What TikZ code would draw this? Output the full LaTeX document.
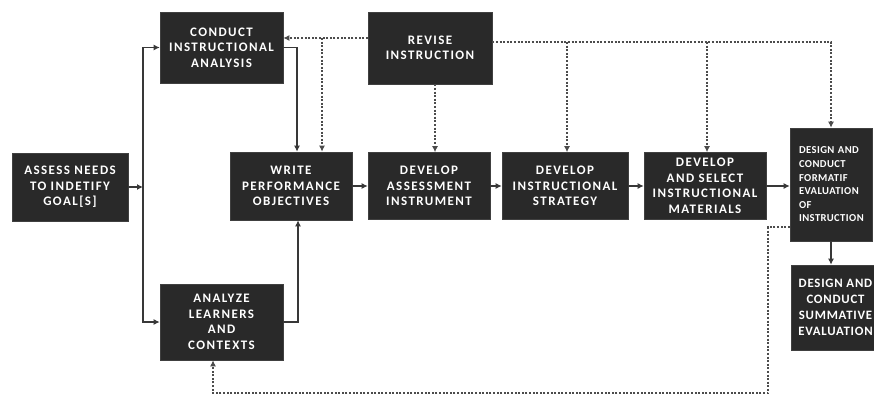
\documentclass[tikz,border=0pt]{standalone}
\usepackage{fontspec}
\setmainfont{Carlito}
\usetikzlibrary{arrows.meta,calc}
\begin{document}
\begin{tikzpicture}[x=1pt,y=-1pt,
  box/.style={draw=black!75,line width=0.6pt,fill=black!84,text=white,inner sep=0pt,align=center,
    font=\fontsize{13}{15.5}\selectfont\bfseries\addfontfeatures{LetterSpace=11}},
  conn/.style={draw=black!78,line width=1.5pt},
  arrow/.style={conn,-{Latex[length=6pt,width=6pt]}},
  dotline/.style={draw=black!70,line width=1.6pt,dash pattern=on 2pt off 1.6pt},
  darrow/.style={dotline,-{Latex[length=6pt,width=6pt]}}]
\useasboundingbox (0,0) rectangle (874,396);
\fill[white] (0,0) rectangle (874,396);
% boxes
\node[box,minimum width=123pt,minimum height=71pt] (conduct) at (221.5,47.5) {CONDUCT\\INSTRUCTIONAL\\ANALYSIS};
\node[box,minimum width=124pt,minimum height=72pt] (revise) at (430,48) {REVISE\\INSTRUCTION};
\node[box,minimum width=116pt,minimum height=68pt] (assess) at (70,187) {ASSESS NEEDS\\TO INDETIFY\\GOAL[S]};
\node[box,minimum width=122pt,minimum height=68pt] (write) at (291,186) {WRITE\\PERFORMANCE\\OBJECTIVES};
\node[box,minimum width=122pt,minimum height=67pt] (devassess) at (429,186) {DEVELOP\\ASSESSMENT\\INSTRUMENT};
\node[box,minimum width=126pt,minimum height=67pt] (strategy) at (565,186) {DEVELOP\\INSTRUCTIONAL\\STRATEGY};
\node[box,minimum width=122pt,minimum height=67pt] (select) at (705,186) {DEVELOP\\AND SELECT\\INSTRUCTIONAL\\MATERIALS};
\node[box,minimum width=82pt,minimum height=113pt,align=left,text width=64pt,
  font=\fontsize{10.6}{13.6}\selectfont\bfseries\addfontfeatures{LetterSpace=4}] (formative) at (831,184.5) {DESIGN AND\\CONDUCT\\FORMATIF\\EVALUATION\\OF\\INSTRUCTION};
\node[box,minimum width=89pt,minimum height=85pt,font=\fontsize{12.8}{16}\selectfont\bfseries\addfontfeatures{LetterSpace=6}] (summative) at (835.5,307.5) {DESIGN AND\\CONDUCT\\SUMMATIVE\\EVALUATION};
\node[box,minimum width=123pt,minimum height=76pt] (analyze) at (221.5,322) {ANALYZE\\LEARNERS\\AND\\CONTEXTS};
% solid connectors
\coordinate (jm) at (143,187);
\draw[arrow] (assess.east) -- (jm);
\draw[arrow] (jm) |- (conduct.west);
\draw[arrow] (jm) |- (analyze.west);
\draw[arrow] (conduct.east) -| ($(write.north)+(6,0)$);
\draw[arrow] (analyze.east) -| ($(write.south)+(7,0)$);
\draw[arrow] (write.east) -- (write.east -| devassess.west);
\draw[arrow] (devassess.east) -- (devassess.east -| strategy.west);
\draw[arrow] (strategy.east) -- (strategy.east -| select.west);
\draw[arrow] (select.east) -- (select.east -| formative.west);
\draw[arrow] (formative.south) -- (formative.south |- summative.north);
% dotted revision connectors
\coordinate (ra) at ([yshift=10pt]revise.west);
\draw[darrow] (ra) -- (ra -| conduct.east);
\coordinate (rv) at (322,38);
\draw[darrow] (rv) -- (rv |- write.north);
\coordinate (rs) at ([xshift=5pt]revise.south);
\draw[darrow] (rs) -- (rs |- devassess.north);
\coordinate (rb) at ([yshift=6pt]revise.east);
\draw[darrow] (rb) -| (formative.north);
\coordinate (rst) at (567,42);
\draw[darrow] (rst) -- (rst |- strategy.north);
\coordinate (rse) at (707,42);
\draw[darrow] (rse) -- (rse |- select.north);
% feedback loop
\coordinate (f1) at ([yshift=-42.5pt]formative.west);
\coordinate (f2) at (768,227);
\coordinate (f3) at (768,393);
\coordinate (f4) at (213,393);
\draw[darrow] (f1) -- (f2) -- (f3) -- (f4) -- (f4 |- analyze.south);
\end{tikzpicture}
\end{document}
